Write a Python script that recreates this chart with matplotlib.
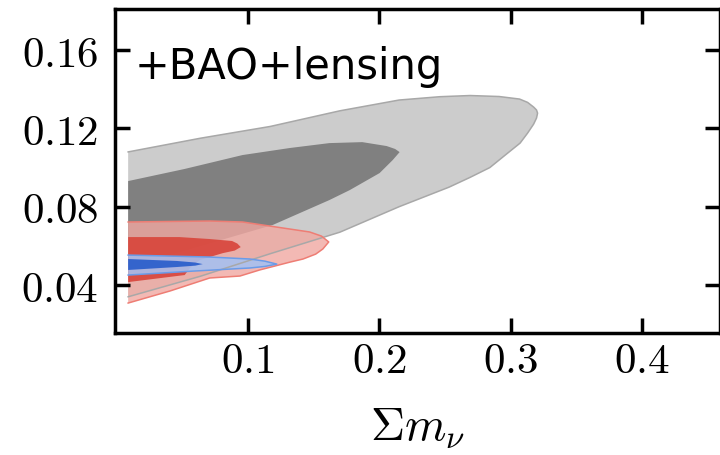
import matplotlib
matplotlib.use('Agg')
import matplotlib.pyplot as plt

# 等高线轮廓 (Σmν, y)，先沿上边界从左到右，再沿下边界回到左侧
gray_outer_x = [0.009, 0.064, 0.117, 0.170, 0.215, 0.246, 0.269, 0.291, 0.3066, 0.3127, 0.3173, 0.3195, 0.3203,
                0.3195, 0.3173, 0.3127, 0.307, 0.295, 0.284, 0.269, 0.253, 0.215, 0.170, 0.117, 0.064, 0.009]
gray_outer_y = [0.108, 0.115, 0.121, 0.129, 0.1345, 0.1362, 0.1368, 0.1363, 0.1350, 0.1333, 0.1309, 0.1294, 0.1278,
                0.1253, 0.1222, 0.1176, 0.1125, 0.106, 0.100, 0.095, 0.090, 0.080, 0.067, 0.056, 0.0445, 0.034]

gray_inner_x = [0.009, 0.052, 0.096, 0.132, 0.162, 0.187, 0.2055, 0.212, 0.2154,
                0.2101, 0.2002, 0.1775, 0.162, 0.119, 0.064, 0.009]
gray_inner_y = [0.0931, 0.0993, 0.1064, 0.110, 0.1125, 0.113, 0.111, 0.1095, 0.1079,
                0.1038, 0.0972, 0.0885, 0.0834, 0.0707, 0.0599, 0.0492]

red_outer_x = [0.009, 0.071, 0.096, 0.117, 0.147, 0.156, 0.1615,
               0.157, 0.1516, 0.142, 0.132, 0.109, 0.094, 0.071, 0.041, 0.009]
red_outer_y = [0.0722, 0.0727, 0.0722, 0.0701, 0.0671, 0.0650, 0.0620,
               0.0584, 0.0558, 0.0533, 0.0517, 0.0477, 0.0446, 0.0436, 0.037, 0.0308]

red_inner_x = [0.009, 0.048, 0.071, 0.088, 0.092, 0.0946, 0.090, 0.081, 0.0635, 0.056, 0.052, 0.009]
red_inner_y = [0.0645, 0.0645, 0.0635, 0.0625, 0.0612, 0.0594, 0.0576, 0.0563, 0.0528, 0.0487, 0.0451, 0.0415]

blue_outer_x = [0.009, 0.071, 0.1015, 0.113, 0.122, 0.113, 0.1015, 0.058, 0.009]
blue_outer_y = [0.0553, 0.0543, 0.0533, 0.0522, 0.0507, 0.0495, 0.0487, 0.0471, 0.0451]

blue_inner_x = [0.009, 0.046, 0.060, 0.0657, 0.060, 0.046, 0.009]
blue_inner_y = [0.0533, 0.0523, 0.0515, 0.0507, 0.0499, 0.0492, 0.0477]

x_ticks = [0.1, 0.2, 0.3, 0.4]
x_labels = ['0.1', '0.2', '0.3', '0.4']
y_ticks = [0.04, 0.08, 0.12, 0.16]
y_labels = ['0.04', '0.08', '0.12', '0.16']


def set_plot_style():
    plt.rcParams.update({
        'font.family': ['DejaVu Sans'],
        'mathtext.fontset': 'cm',
        'axes.linewidth': 2.5,
        'xtick.direction': 'in',
        'ytick.direction': 'in',
        'xtick.major.size': 10.5,
        'ytick.major.size': 10.5,
        'xtick.major.width': 2.5,
        'ytick.major.width': 2.5,
    })


def contour(ax, xs, ys, fill, alpha=1.0, edge=None, lw=1.1):
    ax.fill(xs, ys, color=fill, alpha=alpha, lw=0)
    if edge is not None:
        # 只画上下边界，左侧截断处不描边
        ax.plot(xs, ys, color=edge, lw=lw, solid_joinstyle='round')


def mnu_plot():
    set_plot_style()
    fig = plt.figure(figsize=(7.2, 4.55), dpi=100)
    ax = fig.add_axes([115 / 720, 122 / 455, 605 / 720, 324 / 455])

    contour(ax, gray_outer_x, gray_outer_y, '#cccccc')
    contour(ax, gray_inner_x, gray_inner_y, '#808080')
    ax.plot(gray_outer_x, gray_outer_y, color='#a8a8a8', lw=1.1)

    contour(ax, red_outer_x, red_outer_y, '#f1a8a1', alpha=0.8, edge='#ee7d74')
    contour(ax, red_inner_x, red_inner_y, '#d8443a', alpha=0.9)

    contour(ax, blue_outer_x, blue_outer_y, '#a7c0f0', alpha=0.9, edge='#6a9be8')
    contour(ax, blue_inner_x, blue_inner_y, '#2e60cc', alpha=0.95)

    ax.set_xlim(-0.001, 0.459)
    ax.set_ylim(0.0155, 0.181)

    ax.set_xticks(x_ticks)
    ax.set_xticklabels(['$' + s + '$' for s in x_labels])
    ax.set_yticks(y_ticks)
    ax.set_yticklabels(['$' + s + '$' for s in y_labels])
    ax.tick_params(top=True, right=True, labelsize=31)
    ax.tick_params(axis='x', pad=5)
    ax.tick_params(axis='y', pad=12)

    ax.set_xlabel(r'$\Sigma m_\nu$', fontsize=34, labelpad=17)
    ax.text(0.033, 0.885, '+BAO+lensing', transform=ax.transAxes,
            fontsize=30, ha='left', va='top')

    fig.savefig('out.png', dpi=100)
    plt.close(fig)


mnu_plot()
